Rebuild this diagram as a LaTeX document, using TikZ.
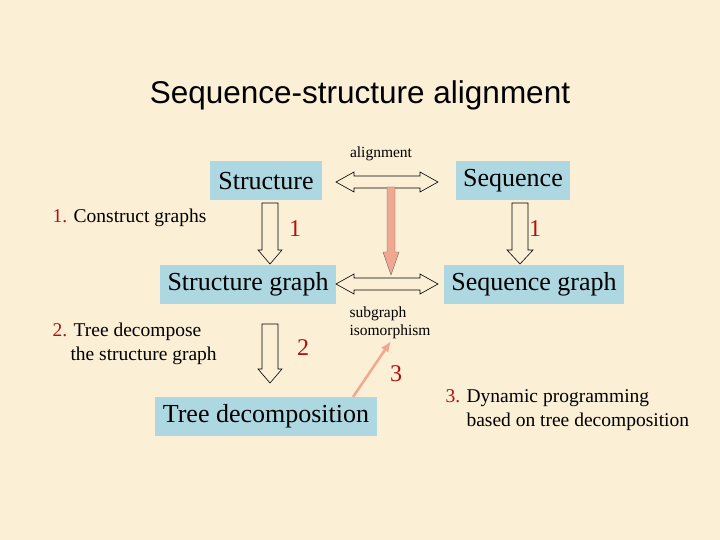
\documentclass[tikz,border=0pt]{standalone}
\usepackage{fontspec}
\usetikzlibrary{arrows.meta}
\setmainfont{Liberation Serif}
\newfontfamily\titlefont{Liberation Sans}
\begin{document}
\begin{tikzpicture}[x=1pt,y=-1pt,
 box/.style={fill=boxblue,inner sep=0pt,font=\fontsize{26}{26}\selectfont,minimum height=39},
 num/.style={text=numred,font=\fontsize{24}{24}\selectfont},
 blk/.style={draw=black,fill=bgc,line width=0.6pt},
 note/.style={font=\fontsize{19.5}{24}\selectfont,align=left,anchor=north west}]
\definecolor{bgc}{HTML}{FBEFD6}
\definecolor{boxblue}{HTML}{ADD8E2}
\definecolor{numred}{HTML}{B01010}
\definecolor{pinkarr}{HTML}{F2A890}
\useasboundingbox (0,0) rectangle (720,540);
\fill[bgc] (0,0) rectangle (720,540);
\node[font=\titlefont\fontsize{31.5}{32}\selectfont] (title) at (360,95) {Sequence-structure alignment};
\node[box,minimum width=112] (st) at (266,181) {Structure};
\node[box,minimum width=114] (sq) at (513,181) {Sequence};
\node[box,minimum width=176] (sg) at (248,284) {Structure graph};
\node[box,minimum width=180] (qg) at (534,284) {Sequence graph};
\node[box,minimum width=222] (td) at (266,416) {Tree decomposition};
\node[font=\fontsize{15.5}{16}\selectfont] (al) at (381,154) {alignment};
\node[font=\fontsize{15.5}{18}\selectfont,align=left,anchor=west] (iso) at (346,323) {subgraph\\isomorphism};
% double arrows
\foreach \yy in {182,284}{
\draw[blk] (336,\yy) -- (354,\yy-10) -- (354,\yy-6) -- (420,\yy-6) -- (420,\yy-10) -- (438,\yy) -- (420,\yy+10) -- (420,\yy+6) -- (354,\yy+6) -- (354,\yy+10) -- cycle;}
% down block arrows
\draw[blk] (262,203) -- (278,203) -- (278,250) -- (282,250) -- (270,264) -- (258,250) -- (262,250) -- cycle;
\draw[blk] (512,203) -- (528,203) -- (528,250) -- (533,250) -- (520,264) -- (507,250) -- (512,250) -- cycle;
\draw[blk] (262,324) -- (278,324) -- (278,369) -- (282,369) -- (270,383) -- (258,369) -- (262,369) -- cycle;
% red vertical arrow
\draw[fill=pinkarr,draw=black!60,line width=0.4pt] (387,187) -- (395,187) -- (395,252) -- (399,252) -- (391,275) -- (383,252) -- (387,252) -- cycle;
\coordinate (tdtop) at (353,397);
\coordinate (isob) at (391,341);
\draw[pinkarr,line width=2.5pt,-{Latex[length=11pt,width=9pt]}] (tdtop) -- (isob);
\node[num] (n1a) at (295,229) {1};
\node[num] (n1b) at (535,229) {1};
\node[num] (n2) at (303,348) {2};
\node[num] (n3) at (396,374) {3};
\node[note] (s1) at (49,205) {\textcolor{numred}{1.} Construct graphs};
\node[note] (s2) at (49,319) {\textcolor{numred}{2.} Tree decompose\\\hspace*{18pt}the structure graph};
\node[note] (s3) at (442,386) {\textcolor{numred}{3.} Dynamic programming\\\hspace*{21pt}based on tree decomposition};
\end{tikzpicture}
\end{document}
